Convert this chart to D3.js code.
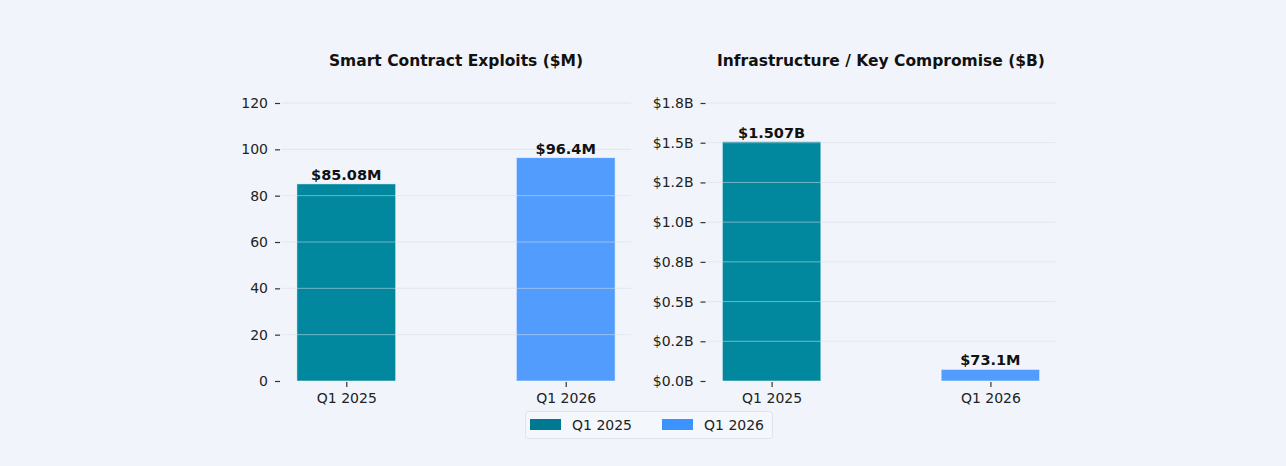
<!DOCTYPE html>
<html><head><meta charset="utf-8">
<script src="https://cdn.jsdelivr.net/npm/d3@7"></script>
<style>
html,body{margin:0;padding:0;background:#f1f5fb;}
svg{display:block;font-family:"DejaVu Sans",sans-serif;}
</style></head>
<body>
<svg id="chart" width="1286" height="466"></svg>
<script>
const categories = ["Q1 2025", "Q1 2026"];
const seriesNames = ["Q1 2025", "Q1 2026"];
const exploitValues = [85.08, 96.4];              // $M
const exploitLabels = ["$85.08M", "$96.4M"];
const infraValues = [1.507, 0.0731];              // $B
const infraLabels = ["$1.507B", "$73.1M"];
const exploitTicks = [0, 20, 40, 60, 80, 100, 120];
const exploitTickLabels = ["0", "20", "40", "60", "80", "100", "120"];
const infraTicks = [0, 0.25, 0.5, 0.75, 1.0, 1.25, 1.5, 1.75];
const infraTickLabels = ["$0.0B", "$0.2B", "$0.5B", "$0.8B", "$1.0B", "$1.2B", "$1.5B", "$1.8B"];
const titles = ["Smart Contract Exploits ($M)", "Infrastructure / Key Compromise ($B)"];

const barColors = ["#01879e", "#529cfe"];
const legendColors = ["#017891", "#3d93fd"];

const svg = d3.select("#chart");
const y0 = 381, yTop = 103;

function panel(left, right, values, labels, ticks, tickLabels, tickMax, title) {
  const g = svg.append("g");
  const xl = d3.scaleLinear().domain([-0.2975, 1.2975]).range([left, right]);
  const bw = xl(0.45) - xl(0);
  const y = d3.scaleLinear().domain([0, tickMax]).range([y0, yTop]);

  g.selectAll("rect.bar").data(values).join("rect")
    .attr("class", "bar")
    .attr("x", (d, i) => xl(i) - bw / 2)
    .attr("width", bw)
    .attr("y", d => y(d))
    .attr("height", d => y0 - y(d))
    .attr("fill", (d, i) => barColors[i])
    .attr("stroke", "#ffffff").attr("stroke-opacity", 0.6).attr("stroke-width", 0.8);

  g.selectAll("line.grid").data(ticks.slice(1)).join("line")
    .attr("class", "grid")
    .attr("x1", left).attr("x2", right)
    .attr("y1", d => y(d)).attr("y2", d => y(d))
    .attr("stroke", "#d3dce8").attr("stroke-opacity", 0.55).attr("stroke-width", 1);

  const ya = d3.axisLeft(y).tickValues(ticks).tickFormat((d, i) => tickLabels[i]).tickSize(5).tickPadding(7);
  const yg = g.append("g").attr("transform", `translate(${left - 1},0)`).call(ya);
  yg.select(".domain").remove();
  yg.selectAll("line").attr("stroke", "#333").attr("stroke-width", 1.2);
  yg.selectAll("text").attr("font-size", 14).attr("fill", "#222").attr("font-family", "DejaVu Sans");

  const xa = d3.axisBottom(xl).tickValues([0, 1]).tickFormat(i => categories[i]).tickSize(5).tickPadding(6);
  const xg = g.append("g").attr("transform", `translate(0,${y0 + 1})`).call(xa);
  xg.select(".domain").remove();
  xg.selectAll("line").attr("stroke", "#333").attr("stroke-width", 1.2);
  xg.selectAll("text").attr("font-size", 14).attr("fill", "#222").attr("font-family", "DejaVu Sans");

  g.selectAll("text.val").data(values).join("text")
    .attr("class", "val")
    .attr("x", (d, i) => xl(i))
    .attr("y", d => y(d) - 4)
    .attr("text-anchor", "middle")
    .attr("font-size", 14.5).attr("font-weight", "bold").attr("fill", "#111")
    .text((d, i) => labels[i]);

  g.append("text")
    .attr("x", (left + right) / 2).attr("y", 66)
    .attr("text-anchor", "middle")
    .attr("font-size", 15.5).attr("font-weight", "bold").attr("fill", "#111")
    .text(title);
}

panel(281, 631, exploitValues, exploitLabels, exploitTicks, exploitTickLabels, 120, titles[0]);
panel(706.5, 1055.5, infraValues, infraLabels, infraTicks, infraTickLabels, 1.75, titles[1]);

const lg = svg.append("g");
lg.append("rect").attr("x", 525.5).attr("y", 411.5).attr("width", 247).attr("height", 27)
  .attr("rx", 3).attr("fill", "#f4f7fc").attr("stroke", "#dde3ec");
const lx = [530, 662];
seriesNames.forEach((n, i) => {
  lg.append("rect").attr("x", lx[i]).attr("y", 419).attr("width", 31).attr("height", 11).attr("fill", legendColors[i]);
  lg.append("text").attr("x", lx[i] + 42).attr("y", 430).attr("font-size", 14).attr("fill", "#222").text(n);
});
</script>
</body></html>
